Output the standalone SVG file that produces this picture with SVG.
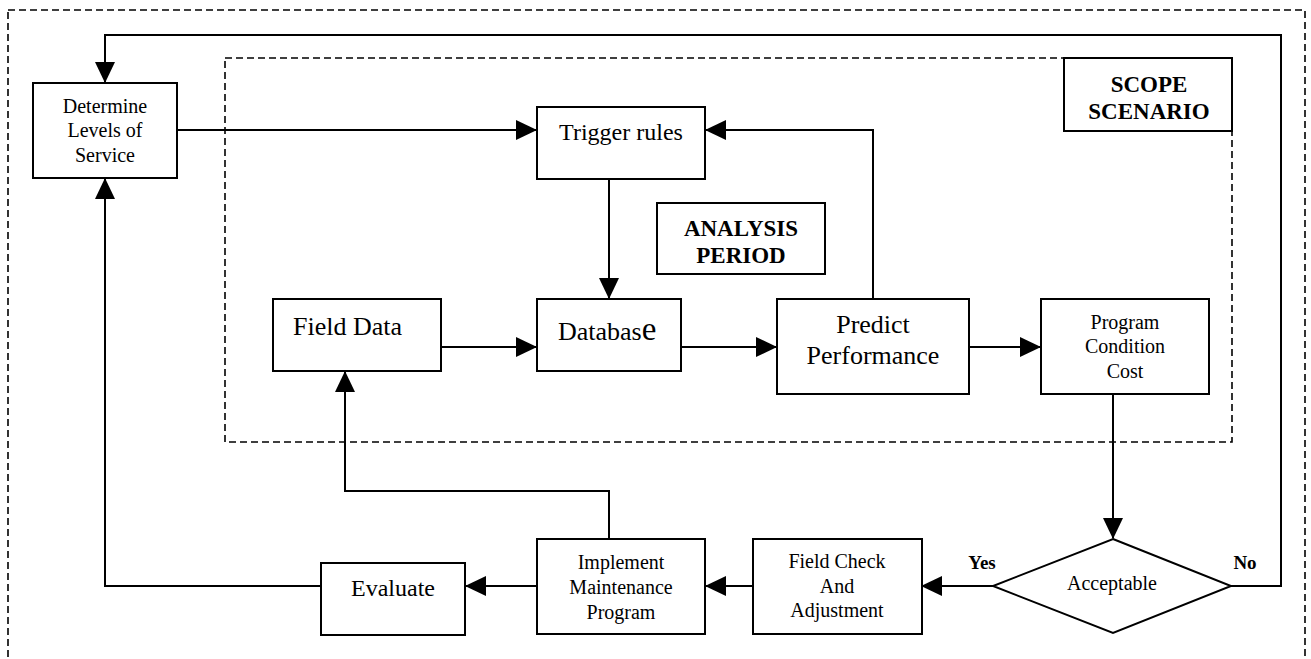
<svg xmlns="http://www.w3.org/2000/svg" width="1311" height="659" viewBox="0 0 1311 659">
<style>
  .box{fill:#fff;stroke:#000;stroke-width:2}
  .dash{fill:none;stroke:#000;stroke-width:1.6;stroke-dasharray:7,4}
  .line{fill:none;stroke:#000;stroke-width:2}
  text{font-family:"Liberation Serif","Times New Roman",serif;fill:#000;text-anchor:middle}
  .b{font-weight:bold}
</style>
<defs>
  <marker id="ah" markerUnits="userSpaceOnUse" markerWidth="21" markerHeight="20" refX="20" refY="10" orient="auto">
    <path d="M0,0 L21,10 L0,20 Z" fill="#000"/>
  </marker>
</defs>
<rect width="1311" height="659" fill="#fff"/>
<rect id="outer-frame" class="dash" x="8" y="10" width="1297" height="660"/>
<rect id="scope-frame" class="dash" x="225" y="58" width="1007" height="384"/>

<g id="connectors">
  <path class="line" d="M1231,586 H1281 V35 H105 V82" marker-end="url(#ah)"/>
  <path class="line" d="M177,130 H536" marker-end="url(#ah)"/>
  <path class="line" d="M873,299 V130 H706" marker-end="url(#ah)"/>
  <path class="line" d="M609,179 V298" marker-end="url(#ah)"/>
  <path class="line" d="M441,347 H536" marker-end="url(#ah)"/>
  <path class="line" d="M681,347 H776" marker-end="url(#ah)"/>
  <path class="line" d="M969,347 H1040" marker-end="url(#ah)"/>
  <path class="line" d="M1113,394 V538" marker-end="url(#ah)"/>
  <path class="line" d="M993,586 H922" marker-end="url(#ah)"/>
  <path class="line" d="M753,586 H706" marker-end="url(#ah)"/>
  <path class="line" d="M609,539 V491 H345 V372" marker-end="url(#ah)"/>
  <path class="line" d="M537,586 H466" marker-end="url(#ah)"/>
  <path class="line" d="M321,586 H105 V179" marker-end="url(#ah)"/>
</g>

<g id="determine">
  <rect class="box" x="33" y="83" width="144" height="95"/>
  <text x="105" y="113" font-size="20">Determine</text>
  <text x="105" y="137" font-size="20">Levels of</text>
  <text x="105" y="162" font-size="20">Service</text>
</g>
<g id="scope-scenario">
  <rect class="box" x="1064" y="58" width="168" height="73"/>
  <text class="b" x="1149" y="92" font-size="23">SCOPE</text>
  <text class="b" x="1149" y="119" font-size="23">SCENARIO</text>
</g>
<g id="trigger-rules">
  <rect class="box" x="537" y="107" width="168" height="72"/>
  <text x="621" y="140" font-size="24">Trigger rules</text>
</g>
<g id="analysis-period">
  <rect class="box" x="657" y="203" width="168" height="71"/>
  <text class="b" x="741" y="236" font-size="23">ANALYSIS</text>
  <text class="b" x="741" y="263" font-size="23">PERIOD</text>
</g>
<g id="field-data">
  <rect class="box" x="273" y="299" width="168" height="72"/>
  <text x="293" y="335" font-size="26" style="text-anchor:start">Field Data</text>
</g>
<g id="database">
  <rect class="box" x="537" y="299" width="144" height="72"/>
  <text x="558" y="340" font-size="26" style="text-anchor:start">Databas<tspan font-size="33">e</tspan></text>
</g>
<g id="predict-performance">
  <rect class="box" x="777" y="299" width="192" height="95"/>
  <text x="873" y="333" font-size="26">Predict</text>
  <text x="873" y="364" font-size="26">Performance</text>
</g>
<g id="program-condition-cost">
  <rect class="box" x="1041" y="299" width="168" height="95"/>
  <text x="1125" y="329" font-size="20">Program</text>
  <text x="1125" y="353" font-size="20">Condition</text>
  <text x="1125" y="378" font-size="20">Cost</text>
</g>
<g id="acceptable">
  <path class="box" d="M1113,539 L1231,586 L1113,633 L993,586 Z"/>
  <text x="1112" y="590" font-size="20">Acceptable</text>
  <text class="b" x="982" y="569" font-size="19">Yes</text>
  <text class="b" x="1245" y="569" font-size="19">No</text>
</g>
<g id="field-check">
  <rect class="box" x="753" y="539" width="169" height="95"/>
  <text x="837" y="568" font-size="20">Field Check</text>
  <text x="837" y="593" font-size="20">And</text>
  <text x="837" y="617" font-size="20">Adjustment</text>
</g>
<g id="implement">
  <rect class="box" x="537" y="539" width="168" height="95"/>
  <text x="621" y="569" font-size="20">Implement</text>
  <text x="621" y="594" font-size="20">Maintenance</text>
  <text x="621" y="619" font-size="20">Program</text>
</g>
<g id="evaluate">
  <rect class="box" x="321" y="563" width="144" height="72"/>
  <text x="393" y="596" font-size="24">Evaluate</text>
</g>
</svg>
